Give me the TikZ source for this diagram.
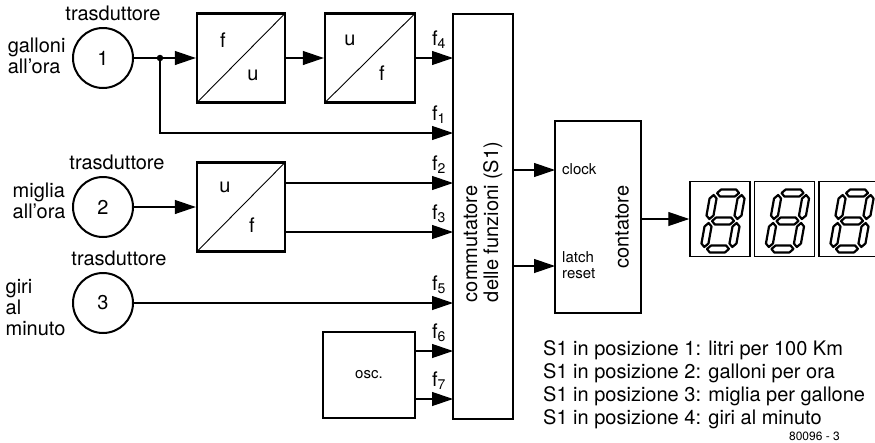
\documentclass[tikz,border=0pt]{standalone}
\usepackage{fontspec}
\setmainfont{TeX Gyre Heros}
\usetikzlibrary{arrows.meta,positioning}

\begin{document}
\begin{tikzpicture}[
  x=1pt,y=-1pt,
  font=\fontsize{20}{21}\selectfont,
  node distance=3pt and 3pt,
  blk/.style={draw,line width=2.4pt,inner sep=0pt},
  conv/.style={blk,minimum width=88pt,minimum height=89pt,
    path picture={\draw[line width=0.9pt] (path picture bounding box.south west)--(path picture bounding box.north east);}},
  sensor/.style={circle,draw,line width=2pt,minimum size=60pt,inner sep=0pt},
  disp/.style={draw,line width=1.5pt,minimum width=60pt,minimum height=75pt,inner sep=0pt},
  lbl/.style={font=\fontsize{15}{16}\selectfont,inner sep=0pt},
  wire/.style={line width=1.2pt},
  arr/.style={wire,-{Triangle[length=21pt,width=14pt]}},
  seg/.style={draw,line width=2.2pt,fill=white,line join=round}
]
\useasboundingbox (0,0) rectangle (875,442);
% trasduttori
\node[sensor] (s1) at (103,58) {1};
\node[sensor] (s2) at (103,207) {2};
\node[sensor] (s3) at (103,303) {3};
\node[above=of s1,xshift=10pt] {trasduttore};
\node[above=of s2,xshift=14pt] {trasduttore};
\node[above=of s3,xshift=16pt] {trasduttore};
\node[left=of s1,align=left,yshift=2pt] {galloni\\all'ora};
\node[left=of s2,align=left,yshift=6pt] {miglia\\all'ora};
\node[left=of s3,align=left,yshift=-5pt] {giri\\al\\minuto};
\node[circle,fill,inner sep=0pt,minimum size=6.5pt] (split) at (160,58) {};
% convertitori
\node[conv] (fu) at (241,58) {};
\node[conv,minimum width=90pt] (uf1) at (370,58) {};
\node[conv] (uf2) at (241,207) {};
\node at ([shift={(-18pt,18pt)}]fu.center) {f};
\node at ([shift={(12pt,-17pt)}]fu.center) {u};
\node at ([shift={(-20pt,18pt)}]uf1.center) {u};
\node at ([shift={(12pt,-15pt)}]uf1.center) {f};
\node at ([shift={(-16pt,20pt)}]uf2.center) {u};
\node at ([shift={(11pt,-18pt)}]uf2.center) {f};
\node[blk,lbl,minimum width=92pt,minimum height=86pt] (osc) at (369,375) {osc.};
% commutatore e contatore
\node[blk,minimum width=60pt,minimum height=405pt] (comm) at (483,216.5) {};
\node[rotate=90,align=left] at (483,222) {commutatore\\delle funzioni (S1)};
\node[blk,minimum width=86pt,minimum height=192pt] (cnt) at (598,217) {};
\node[rotate=90] at (622,227) {contatore};
\node[lbl,anchor=west] at (562,169) {clock};
\node[lbl,anchor=west,align=left] at (562,265) {latch\\reset};
\node[disp] (d1) at (720,219) {};
\node[disp,right=of d1] (d2) {};
\node[disp,right=of d2] (d3) {};
% ingressi
\coordinate (p4) at (453,58);
\coordinate (p1) at (453,133);
\coordinate (p2) at (453,183);
\coordinate (p3) at (453,232);
\coordinate (p5) at (453,303);
\coordinate (p6) at (453,351);
\coordinate (p7) at (453,399);
\coordinate (pclk) at (555,170);
\coordinate (prst) at (555,266);
\draw[wire] (s1) -- (split);
\draw[arr] (split) -- (fu);
\draw[arr] (fu) -- (uf1);
\draw[arr] (uf1) -- (p4);
\draw[arr] (split) |- (p1);
\draw[arr] (s2) -- (uf2);
\draw[arr] (uf2.east |- p2) -- (p2);
\draw[arr] (uf2.east |- p3) -- (p3);
\draw[arr] (s3) -- (p5);
\draw[arr] (osc.east |- p6) -- (p6);
\draw[arr] (osc.east |- p7) -- (p7);
\draw[arr] (comm.east |- pclk) -- (pclk);
\draw[arr] (comm.east |- prst) -- (prst);
\draw[arr] (cnt.east |- d1.west) -- (d1.west);
\foreach \p/\n in {p4/4,p1/1,p2/2,p3/3,p5/5,p6/6,p7/7}
  \node at ([shift={(-14pt,18pt)}]\p) {f\textsubscript{\n}};
% display
\foreach \dd in {d1,d2,d3}{
  \begin{scope}[shift={(\dd.center)},xshift=3pt,yshift=-2pt,x=1pt,y=1pt,xslant=0.18]
    \foreach \y in {28,0,-28}
      \draw[seg] (-11,\y)--(-7.5,\y+3.5)--(7.5,\y+3.5)--(11,\y)--(7.5,\y-3.5)--(-7.5,\y-3.5)--cycle;
    \foreach \x in {-14,14}
      \foreach \a in {0,-28}
        \draw[seg] (\x,\a+2)--(\x+3.5,\a+5.5)--(\x+3.5,\a+22.5)--(\x,\a+26)--(\x-3.5,\a+22.5)--(\x-3.5,\a+5.5)--cycle;
  \end{scope}
}
% legenda
\node[align=left,anchor=north west,inner sep=0pt,font=\fontsize{20}{23}\selectfont] (legend) at (543,340)
  {S1 in posizione 1: litri per 100 Km\\S1 in posizione 2: galloni per ora\\S1 in posizione 3: miglia per gallone\\S1 in posizione 4: giri al minuto};
\node[anchor=east,inner sep=0pt,font=\fontsize{12}{14}\selectfont] at (840,436) {80096 - 3};
\end{tikzpicture}
\end{document}
